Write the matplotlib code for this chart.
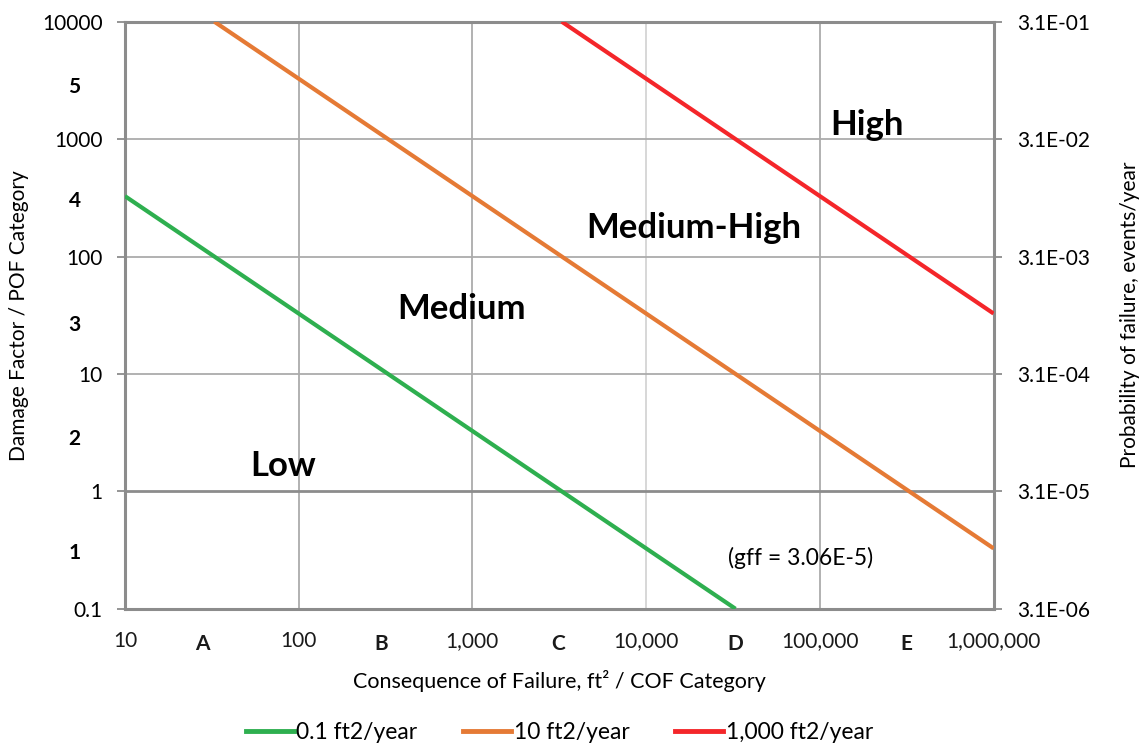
import numpy as np
import matplotlib.pyplot as plt
from matplotlib.lines import Line2D

plt.rcParams['font.family'] = ['Lato', 'DejaVu Sans']

# iso-risk lines (endpoints)
cof_low = [10, 32700]
df_low = [327, 0.1]
cof_med = [32.7, 1000000]
df_med = [10000, 0.327]
cof_high = [3270, 1000000]
df_high = [10000, 32.7]
series_names = ['0.1 ft2/year', '10 ft2/year', '1,000 ft2/year']
colors = ['#2EAF4F', '#E57A35', '#F4262A']

# axis ticks
x_decades = [10, 100, 1000, 10000, 100000, 1000000]
x_decade_labels = ['10', '100', '1,000', '10,000', '100,000', '1,000,000']
x_cats = [28, 300, 3100, 32400, 316000]
x_cat_labels = ['A', 'B', 'C', 'D', 'E']
y_decades = [0.1, 1, 10, 100, 1000, 10000]
y_decade_labels = ['0.1', '1', '10', '100', '1000', '10000']
y_cats = [0.31, 2.9, 27, 310, 2900]
y_cat_labels = ['1', '2', '3', '4', '5']
pof_labels = ['3.1E-06', '3.1E-05', '3.1E-04', '3.1E-03', '3.1E-02', '3.1E-01']

# region labels
regions = ['Low', 'Medium', 'Medium-High', 'High']
region_x = [81, 861, 18700, 186000]
region_y = [1.65, 35.9, 176, 1320]

fs = 15
fig = plt.figure(figsize=(11.46, 7.47), dpi=100)
ax = fig.add_axes([0.109, 0.185, 0.758, 0.786])
ax.set_xscale('log')
ax.set_yscale('log')
ax.set_xlim(10, 1000000)
ax.set_ylim(0.1, 10000)

grid_c = '#ABABAB'
light_c = '#D4D4D4'
dark_c = '#8C8C8C'
for xv in x_decades[1:-1]:
    ax.axvline(xv, color=light_c if xv == 10000 else grid_c, lw=1.3, zorder=1)
for yv in y_decades[1:-1]:
    ax.axhline(yv, color=dark_c if yv == 1 else grid_c, lw=2.0 if yv == 1 else 1.3, zorder=1)

for cx, cy, c in zip([cof_low, cof_med, cof_high], [df_low, df_med, df_high], colors):
    ax.plot(cx, cy, color=c, lw=3, solid_capstyle='butt', zorder=3)

for s in ax.spines.values():
    s.set_color(dark_c)
    s.set_linewidth(2.2)

ax.set_xticks(x_decades)
ax.set_xticklabels(x_decade_labels)
ax.set_xticks(x_cats, minor=True)
ax.set_xticklabels(x_cat_labels, minor=True, fontweight='bold')
ax.tick_params(axis='x', which='major', length=0, pad=16, labelsize=fs, colors='#1a1a1a')
ax.tick_params(axis='x', which='minor', length=0, pad=18, labelsize=fs, colors='#1a1a1a')

ax.set_yticks(y_decades)
ax.set_yticklabels(y_decade_labels)
ax.set_yticks(y_cats, minor=True)
ax.set_yticklabels(y_cat_labels, minor=True, fontweight='bold')
ax.tick_params(axis='y', which='major', length=6, width=1.3, color=dark_c, pad=10, labelsize=fs)
ax.tick_params(axis='y', which='minor', length=0, pad=32, labelsize=fs)

ax2 = ax.twinx()
ax2.set_yscale('log')
ax2.set_ylim(0.1, 10000)
ax2.set_yticks(y_decades)
ax2.set_yticklabels(pof_labels)
ax2.yaxis.set_minor_locator(plt.NullLocator())
ax2.tick_params(axis='y', length=6, width=1.3, color=dark_c, pad=11, labelsize=fs)
for s in ax2.spines.values():
    s.set_visible(False)

ax.set_xlabel('Consequence of Failure, ft² / COF Category', fontsize=15.5)
ax.xaxis.set_label_coords(0.5, -0.104)
ax.set_ylabel('Damage Factor / POF Category', fontsize=fs)
ax.yaxis.set_label_coords(-0.1106, 0.5)
ax2.set_ylabel('Probability of failure, events/year', fontsize=fs, rotation=90)
ax2.yaxis.set_label_coords(1.145, 0.5)

for name, rx, ry in zip(regions, region_x, region_y):
    ax.text(rx, ry, name, fontsize=25, fontweight='bold', ha='center', va='center', zorder=4)
ax.text(77600, 0.272, '(gff = 3.06E-5)', fontsize=16.5, ha='center', va='center', zorder=4)

handles = [Line2D([], [], color=c, lw=3.5) for c in colors]
fig.legend(handles, series_names, loc='center', bbox_to_anchor=(0.488, 0.019), ncol=3,
           frameon=False, fontsize=16.5, handlelength=2.1, handletextpad=0.1, columnspacing=2.0)

fig.savefig('out.png', dpi=100)
